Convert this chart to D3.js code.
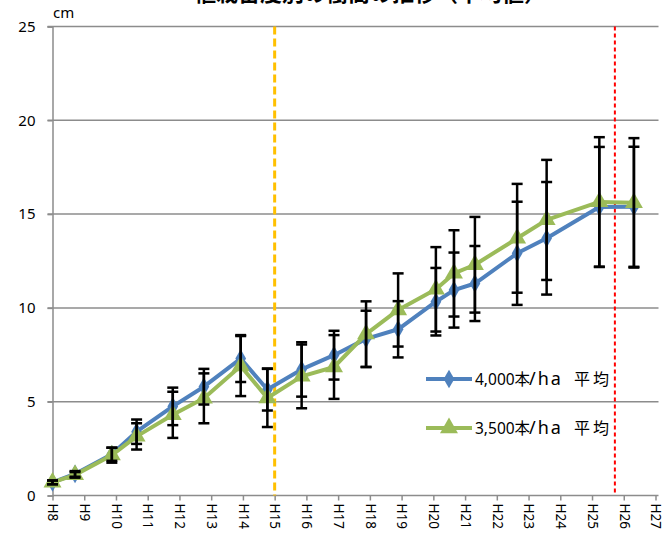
<!DOCTYPE html>
<html>
<head>
<meta charset="utf-8">
<script src="https://cdn.jsdelivr.net/npm/d3@7"></script>
<style>
  body { margin: 0; background: #fff; }
  svg { display: block; font-family: "Noto Sans", "Noto Sans CJK JP", sans-serif; }
</style>
</head>
<body>
<svg id="chart" width="667" height="535"></svg>
<script>
// Measurement timing (Heisei year, fractional) and mean height (cm) with error range
const years = [8.0, 8.71, 9.87, 10.65, 11.79, 12.77, 13.93, 14.77, 15.85, 16.87,
               17.88, 18.89, 20.08, 20.65, 21.31, 22.64, 23.57, 25.23, 26.32];
const dense4000 = [0.7, 1.15, 2.2, 3.4, 4.75, 5.8, 7.3, 5.65, 6.72, 7.48,
                   8.35, 8.86, 10.33, 10.95, 11.3, 12.91, 13.71, 15.38, 15.39];
const dense4000Err = [0.1, 0.15, 0.35, 0.65, 1.0, 0.95, 1.25, 1.12, 1.45, 1.3,
                      1.5, 1.5, 1.8, 2.0, 2.0, 2.75, 3.0, 3.2, 3.2];
const dense3500 = [0.7, 1.1, 2.15, 3.15, 4.3, 5.18, 6.9, 5.2, 6.35, 6.85,
                   8.6, 9.89, 10.99, 11.84, 12.3, 13.71, 14.69, 15.65, 15.6];
const dense3500Err = [0.1, 0.15, 0.4, 0.7, 1.23, 1.33, 1.6, 1.55, 1.7, 1.7,
                      1.75, 1.95, 2.25, 2.3, 2.55, 2.9, 3.2, 3.45, 3.45];
const tickYears = d3.range(8, 28);
const tickLabels = tickYears.map(y => "H" + y);
const yTicks = [0, 5, 10, 15, 20, 25];
// Legend names, split into parts so each part can be placed on its own
const seriesNames = [["4,000本", "/ha", "平均"], ["3,500本", "/ha", "平均"]];
const markerYears = [15, 25.72];
const titleText = "植栽密度別の樹高の推移（平均値）";

const svg = d3.select("#chart");
const x = d3.scaleLinear().domain([8, 27]).range([52.5, 655.5]);
const y = d3.scaleLinear().domain([0, 25]).range([495.5, 26.5]);

const grey = "#8c8c8c";

// Title (runs off the top edge)
svg.append("text")
  .attr("x", 370).attr("y", 1)
  .attr("text-anchor", "middle")
  .attr("font-family", "Noto Sans CJK JP")
  .attr("font-weight", "bold")
  .attr("font-size", 22)
  .attr("fill", "#000")
  .text(titleText);

// Horizontal gridlines
svg.append("g")
  .selectAll("line")
  .data(yTicks.filter(d => d > 0))
  .join("line")
  .attr("x1", x(8) - 5).attr("x2", x(27) + 3)
  .attr("y1", d => y(d)).attr("y2", d => y(d))
  .attr("stroke", grey).attr("stroke-width", 1.5);

// Y axis
const yAxis = svg.append("g")
  .attr("transform", `translate(${x(8)},0)`)
  .call(d3.axisLeft(y).tickValues(yTicks).tickSize(5).tickPadding(12));
yAxis.select(".domain").attr("stroke", grey).attr("stroke-width", 1.5);
yAxis.selectAll(".tick line").attr("stroke", grey).attr("stroke-width", 1.5);
yAxis.selectAll(".tick text")
  .attr("font-size", 15).attr("fill", "#000")
  .attr("font-family", "Noto Sans");

// X axis
const xAxis = svg.append("g")
  .attr("transform", `translate(0,${y(0)})`)
  .call(d3.axisBottom(x).tickValues(tickYears).tickFormat((d, i) => tickLabels[i]).tickSize(5).tickSizeOuter(0));
xAxis.select(".domain").attr("stroke", grey).attr("stroke-width", 1.5)
  .attr("d", `M${x(8)},0H${x(27) + 3}`);
xAxis.selectAll(".tick line").attr("stroke", grey).attr("stroke-width", 1.5);
xAxis.selectAll(".tick text")
  .attr("font-size", 13.5).attr("fill", "#000")
  .attr("font-family", "Noto Sans")
  .attr("text-anchor", "start")
  .attr("dy", "0.35em")
  .attr("transform", "translate(0,8) rotate(90)")
  .attr("x", 0).attr("y", 0);

// Unit label
svg.append("text")
  .attr("x", 53).attr("y", 18)
  .attr("font-size", 15)
  .attr("font-family", "Noto Sans")
  .attr("fill", "#000")
  .text("cm");

// Reference vertical lines
svg.append("line")
  .attr("x1", x(markerYears[0])).attr("x2", x(markerYears[0]))
  .attr("y1", y(25)).attr("y2", y(0))
  .attr("stroke", "#FFC000").attr("stroke-width", 3)
  .attr("stroke-dasharray", "8,4");
svg.append("line")
  .attr("x1", x(markerYears[1])).attr("x2", x(markerYears[1]))
  .attr("y1", y(25)).attr("y2", y(0))
  .attr("stroke", "#FF0000").attr("stroke-width", 2)
  .attr("stroke-dasharray", "4,3");

const series = [
  { name: seriesNames[0], values: dense4000, err: dense4000Err, color: "#4F81BD", marker: d3.symbolDiamond, size: 100 },
  { name: seriesNames[1], values: dense3500, err: dense3500Err, color: "#9BBB59", marker: d3.symbolTriangle, size: 140 }
];

const line = d3.line().x((d, i) => x(years[i])).y(d => y(d));

series.forEach(s => {
  const g = svg.append("g");
  g.append("path")
    .attr("d", line(s.values))
    .attr("fill", "none")
    .attr("stroke", s.color)
    .attr("stroke-width", 4)
    .attr("stroke-linejoin", "round");
  g.selectAll("path.mk")
    .data(s.values)
    .join("path")
    .attr("class", "mk")
    .attr("transform", (d, i) => `translate(${x(years[i])},${y(d)})`)
    .attr("d", d3.symbol().type(s.marker).size(s.size))
    .attr("fill", s.color);
});

// Error bars drawn over the lines
series.forEach(s => {
  const g = svg.append("g").attr("stroke", "#000").attr("stroke-width", 2.5);
  s.values.forEach((v, i) => {
    const cx = x(years[i]);
    const top = y(v + s.err[i]);
    const bot = y(v - s.err[i]);
    g.append("line").attr("x1", cx).attr("x2", cx).attr("y1", top).attr("y2", bot);
    g.append("line").attr("x1", cx - 5.5).attr("x2", cx + 5.5).attr("y1", top).attr("y2", top);
    g.append("line").attr("x1", cx - 5.5).attr("x2", cx + 5.5).attr("y1", bot).attr("y2", bot);
  });
});

// Legend
const legend = svg.append("g");
const partX = [475, 529, 574];
const partSpacing = [0, 2, 3];
const partSize = [15.5, 18, 16];
series.forEach((s, i) => {
  const ly = 379 + i * 49;
  legend.append("line")
    .attr("x1", 426).attr("x2", 472)
    .attr("y1", ly).attr("y2", ly)
    .attr("stroke", s.color).attr("stroke-width", 4);
  legend.append("path")
    .attr("transform", `translate(449,${ly})`)
    .attr("d", d3.symbol().type(s.marker).size(s.size))
    .attr("fill", s.color);
  const t = legend.append("text")
    .attr("y", ly)
    .attr("dy", "0.35em")
    .attr("font-family", "Noto Sans, Noto Sans CJK JP")
    .attr("fill", "#000");
  t.selectAll("tspan")
    .data(s.name)
    .join("tspan")
    .attr("x", (d, k) => partX[k])
    .attr("font-size", (d, k) => partSize[k])
    .attr("letter-spacing", (d, k) => partSpacing[k])
    .text(d => d);
});
</script>
</body>
</html>
